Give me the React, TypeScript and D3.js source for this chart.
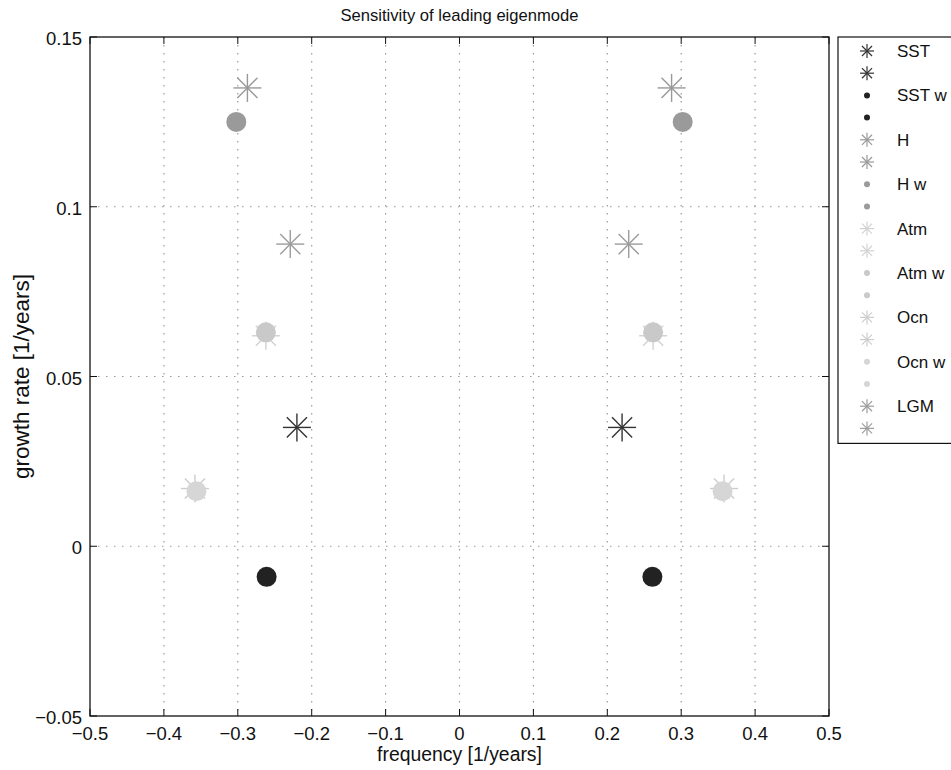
import React from "react";
import * as d3 from "d3";

const seriesNames = ["SST", "SST w", "H", "H w", "Atm", "Atm w", "Ocn", "Ocn w", "LGM"];
const seriesMarkers = ["star", "dot", "star", "dot", "star", "dot", "star", "dot", "star"];
const seriesFreq = [0.22, 0.261, 0.287, 0.302, 0.262, 0.262, 0.358, 0.356, 0.229];
const seriesGrowth = [0.035, -0.009, 0.135, 0.125, 0.062, 0.063, 0.017, 0.0162, 0.089];
const seriesColors = ["#333333", "#222222", "#999999", "#9a9a9a", "#d2d2d2", "#c9c9c9", "#cdcdcd", "#d6d6d6", "#9c9c9c"];

const xTicks = [-0.5, -0.4, -0.3, -0.2, -0.1, 0, 0.1, 0.2, 0.3, 0.4, 0.5];
const xTickLabels = ["−0.5", "−0.4", "−0.3", "−0.2", "−0.1", "0", "0.1", "0.2", "0.3", "0.4", "0.5"];
const yTicks = [-0.05, 0, 0.05, 0.1, 0.15];
const yTickLabels = ["−0.05", "0", "0.05", "0.1", "0.15"];

const W = 951;
const H = 770;
const L = 90, R = 829, T = 37, B = 716;
const FONT = "'Liberation Sans', Arial, Helvetica, sans-serif";

function Star({ cx, cy, s, color, sw }: { cx: number; cy: number; s: number; color: string; sw: number }) {
  const d = s * 0.72;
  return (
    <g stroke={color} strokeWidth={sw} fill="none">
      <line x1={cx - s} y1={cy} x2={cx + s} y2={cy} />
      <line x1={cx} y1={cy - s} x2={cx} y2={cy + s} />
      <line x1={cx - d} y1={cy - d} x2={cx + d} y2={cy + d} />
      <line x1={cx - d} y1={cy + d} x2={cx + d} y2={cy - d} />
    </g>
  );
}

export default function App() {
  const x = d3.scaleLinear().domain([-0.5, 0.5]).range([L, R]);
  const y = d3.scaleLinear().domain([-0.05, 0.15]).range([B, T]);
  const tickLen = 7;

  const points: React.ReactNode[] = [];
  seriesNames.forEach((name, i) => {
    [-1, 1].forEach((sgn) => {
      const cx = x(sgn * seriesFreq[i]);
      const cy = y(seriesGrowth[i]);
      if (seriesMarkers[i] === "star") {
        points.push(<Star key={name + sgn} cx={cx} cy={cy} s={14} color={seriesColors[i]} sw={1.4} />);
      } else {
        points.push(<circle key={name + sgn} cx={cx} cy={cy} r={10} fill={seriesColors[i]} />);
      }
    });
  });

  const legTop = 37, legLeft = 838, legStep = 22.2, legFirst = 51;
  const nLeg = seriesNames.length * 2;
  const legBottom = legFirst + (nLeg - 1) * legStep + 15;
  const legendItems: React.ReactNode[] = [];
  seriesNames.forEach((name, i) => {
    [0, 1].forEach((k) => {
      const cy = legFirst + (i * 2 + k) * legStep;
      const cx = 867;
      legendItems.push(
        <g key={name + k}>
          {seriesMarkers[i] === "star" ? (
            <Star cx={cx} cy={cy} s={7} color={seriesColors[i]} sw={1.2} />
          ) : (
            <circle cx={cx} cy={cy} r={3} fill={seriesColors[i]} />
          )}
          {k === 0 && (
            <text x={897} y={cy + 6} fontSize={17} fontFamily={FONT} fill="#111">
              {name}
            </text>
          )}
        </g>
      );
    });
  });

  return (
    <svg width={W} height={H} style={{ position: "absolute", left: 0, top: 0, background: "#fff" }}>
      <rect x={0} y={0} width={W} height={H} fill="#fff" />
      {/* grid */}
      <g stroke="#9a9a9a" strokeWidth={1.2} strokeDasharray="1.5,6.5">
        {xTicks.slice(1, -1).map((v) => (
          <line key={"gx" + v} x1={x(v)} x2={x(v)} y1={T} y2={B} />
        ))}
        {yTicks.slice(1, -1).map((v) => (
          <line key={"gy" + v} x1={L} x2={R} y1={y(v)} y2={y(v)} />
        ))}
      </g>
      {/* ticks */}
      <g stroke="#111" strokeWidth={1}>
        {xTicks.map((v) => (
          <g key={"tx" + v}>
            <line x1={x(v)} x2={x(v)} y1={B} y2={B - tickLen} />
            <line x1={x(v)} x2={x(v)} y1={T} y2={T + tickLen} />
          </g>
        ))}
        {yTicks.map((v) => (
          <g key={"ty" + v}>
            <line x1={L} x2={L + tickLen} y1={y(v)} y2={y(v)} />
            <line x1={R} x2={R - tickLen} y1={y(v)} y2={y(v)} />
          </g>
        ))}
      </g>
      {points}
      <rect x={L} y={T} width={R - L} height={B - T} fill="none" stroke="#111" strokeWidth={1.3} />
      {/* tick labels */}
      <g fontFamily={FONT} fontSize={18.5} fill="#111">
        {xTicks.map((v, i) => (
          <text key={"lx" + v} x={x(v)} y={740} textAnchor="middle">
            {xTickLabels[i]}
          </text>
        ))}
        {yTicks.map((v, i) => (
          <text key={"ly" + v} x={82} y={y(v) + 8} textAnchor="end">
            {yTickLabels[i]}
          </text>
        ))}
      </g>
      <text x={(L + R) / 2} y={21} textAnchor="middle" fontFamily={FONT} fontSize={16.6} fill="#111">
        Sensitivity of leading eigenmode
      </text>
      <text x={(L + R) / 2} y={761} textAnchor="middle" fontFamily={FONT} fontSize={19.4} fill="#111">
        frequency [1/years]
      </text>
      <text
        transform={`translate(29,${(T + B) / 2}) rotate(-90)`}
        textAnchor="middle"
        fontFamily={FONT}
        fontSize={22.5}
        fill="#111"
      >
        growth rate [1/years]
      </text>
      {/* legend */}
      <rect x={legLeft} y={legTop} width={130} height={legBottom - legTop} fill="#fff" stroke="#111" strokeWidth={1.2} />
      {legendItems}
    </svg>
  );
}
